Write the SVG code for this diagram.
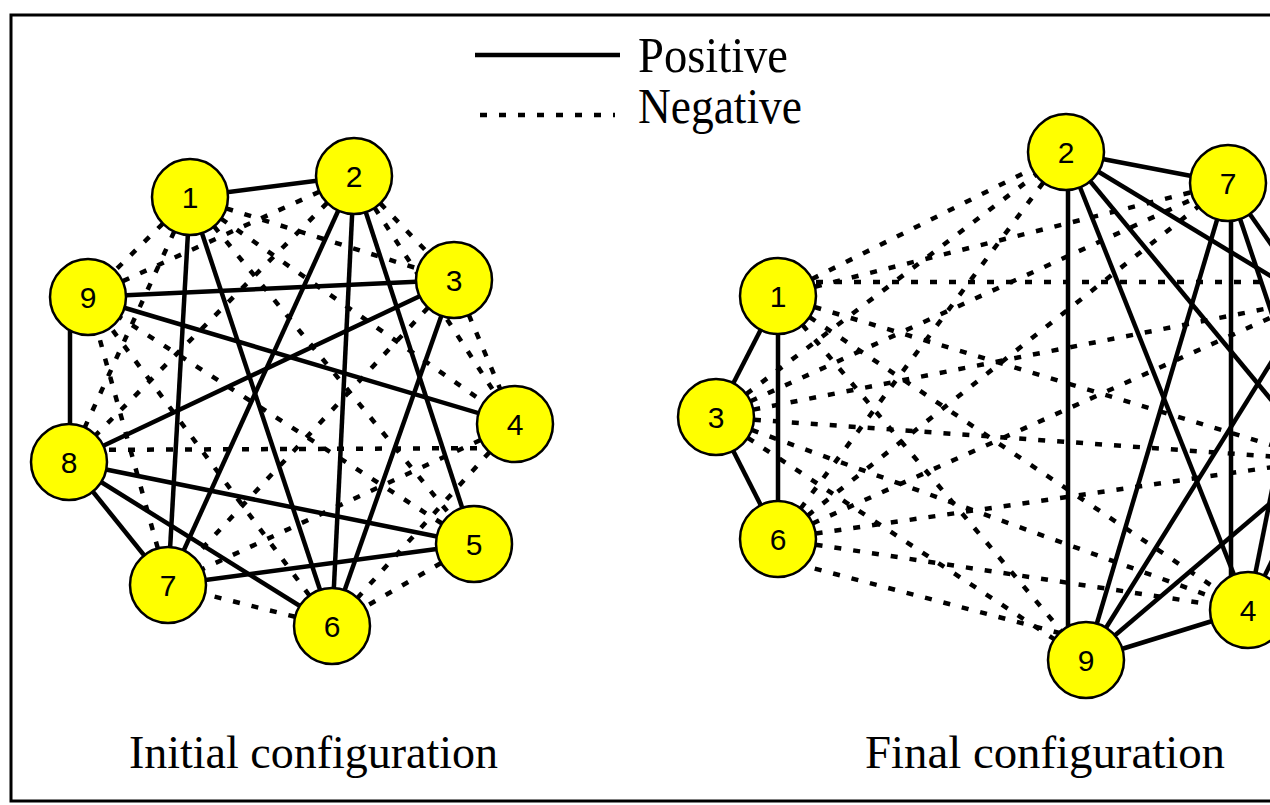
<svg xmlns="http://www.w3.org/2000/svg" width="1270" height="805" viewBox="0 0 1270 805">
<style>
.pos{stroke:#000;stroke-width:4.5;fill:none}
.neg{stroke:#000;stroke-width:4.5;stroke-dasharray:7 12;fill:none}
.node circle{fill:#ffff00;stroke:#000;stroke-width:2.5}
.node text{font-family:"Liberation Sans",Arial,sans-serif;font-size:30px;text-anchor:middle;fill:#000}
.cap{font-family:"Liberation Serif","Times New Roman",serif;fill:#000}
</style>
<rect x="0" y="0" width="1270" height="805" fill="#ffffff"/>
<rect x="11" y="15" width="1300" height="786" fill="none" stroke="#000" stroke-width="3"/>
<g id="legend">
<line class="pos" x1="475" y1="55" x2="620" y2="55" stroke-width="5"/>
<line class="neg" x1="480" y1="115" x2="615" y2="115"/>
<text class="cap" x="638" y="72" font-size="50" textLength="150" lengthAdjust="spacingAndGlyphs">Positive</text>
<text class="cap" x="638" y="123" font-size="50" textLength="164" lengthAdjust="spacingAndGlyphs">Negative</text>
</g>
<g id="connectors-initial">
<line class="pos" x1="190" y1="197" x2="354" y2="176"/>
<line class="pos" x1="190" y1="197" x2="168" y2="585"/>
<line class="pos" x1="190" y1="197" x2="332" y2="626"/>
<line class="pos" x1="354" y1="176" x2="168" y2="585"/>
<line class="pos" x1="354" y1="176" x2="332" y2="626"/>
<line class="pos" x1="354" y1="176" x2="474" y2="544"/>
<line class="pos" x1="454" y1="280" x2="88" y2="297"/>
<line class="pos" x1="515" y1="424" x2="88" y2="297"/>
<line class="pos" x1="70" y1="462" x2="70" y2="297"/>
<line class="pos" x1="454" y1="280" x2="69" y2="462"/>
<line class="pos" x1="474" y1="544" x2="69" y2="462"/>
<line class="pos" x1="332" y1="626" x2="69" y2="462"/>
<line class="pos" x1="168" y1="585" x2="69" y2="462"/>
<line class="pos" x1="474" y1="544" x2="168" y2="585"/>
<line class="pos" x1="454" y1="280" x2="332" y2="626"/>
<line class="neg" x1="190" y1="197" x2="454" y2="280"/>
<line class="neg" x1="190" y1="197" x2="515" y2="424"/>
<line class="neg" x1="190" y1="197" x2="474" y2="544"/>
<line class="neg" x1="190" y1="197" x2="69" y2="462"/>
<line class="neg" x1="190" y1="197" x2="88" y2="297"/>
<line class="neg" x1="354" y1="176" x2="454" y2="280"/>
<line class="neg" x1="354" y1="176" x2="515" y2="424"/>
<line class="neg" x1="354" y1="176" x2="69" y2="462"/>
<line class="neg" x1="354" y1="176" x2="88" y2="297"/>
<line class="neg" x1="454" y1="280" x2="515" y2="424"/>
<line class="neg" x1="454" y1="280" x2="168" y2="585"/>
<line class="neg" x1="515" y1="424" x2="332" y2="626"/>
<line class="neg" x1="515" y1="424" x2="168" y2="585"/>
<line class="neg" x1="515" y1="448" x2="69" y2="450"/>
<line class="neg" x1="474" y1="544" x2="332" y2="626"/>
<line class="neg" x1="474" y1="544" x2="88" y2="297"/>
<line class="neg" x1="332" y1="626" x2="168" y2="585"/>
<line class="neg" x1="332" y1="626" x2="88" y2="297"/>
<line class="neg" x1="168" y1="585" x2="88" y2="297"/>
</g>
<g id="connectors-final">
<line class="pos" x1="778" y1="296" x2="716" y2="417"/>
<line class="pos" x1="778" y1="296" x2="778" y2="539"/>
<line class="pos" x1="716" y1="417" x2="778" y2="539"/>
<line class="pos" x1="1066" y1="152" x2="1228" y2="183"/>
<line class="pos" x1="1068" y1="152" x2="1068" y2="660"/>
<line class="pos" x1="1066" y1="152" x2="1248" y2="610"/>
<line class="pos" x1="1066" y1="152" x2="1310" y2="300"/>
<line class="pos" x1="1066" y1="152" x2="1321" y2="460"/>
<line class="pos" x1="1228" y1="183" x2="1086" y2="660"/>
<line class="pos" x1="1231" y1="183" x2="1231" y2="610"/>
<line class="pos" x1="1228" y1="183" x2="1310" y2="300"/>
<line class="pos" x1="1228" y1="183" x2="1321" y2="460"/>
<line class="pos" x1="1086" y1="660" x2="1248" y2="610"/>
<line class="pos" x1="1086" y1="660" x2="1310" y2="300"/>
<line class="pos" x1="1086" y1="660" x2="1321" y2="460"/>
<line class="pos" x1="1248" y1="610" x2="1310" y2="300"/>
<line class="pos" x1="1248" y1="610" x2="1321" y2="460"/>
<line class="neg" x1="778" y1="296" x2="1066" y2="152"/>
<line class="neg" x1="778" y1="296" x2="1228" y2="183"/>
<line class="neg" x1="778" y1="282" x2="1310" y2="282"/>
<line class="neg" x1="778" y1="296" x2="1321" y2="460"/>
<line class="neg" x1="778" y1="296" x2="1248" y2="610"/>
<line class="neg" x1="778" y1="296" x2="1086" y2="660"/>
<line class="neg" x1="716" y1="417" x2="1066" y2="152"/>
<line class="neg" x1="716" y1="417" x2="1228" y2="183"/>
<line class="neg" x1="716" y1="417" x2="1310" y2="300"/>
<line class="neg" x1="716" y1="417" x2="1321" y2="460"/>
<line class="neg" x1="716" y1="417" x2="1248" y2="610"/>
<line class="neg" x1="716" y1="417" x2="1086" y2="660"/>
<line class="neg" x1="778" y1="539" x2="1066" y2="152"/>
<line class="neg" x1="778" y1="539" x2="1228" y2="183"/>
<line class="neg" x1="778" y1="539" x2="1310" y2="300"/>
<line class="neg" x1="778" y1="539" x2="1321" y2="460"/>
<line class="neg" x1="778" y1="539" x2="1248" y2="610"/>
<line class="neg" x1="778" y1="559" x2="1086" y2="640"/>
</g>
<g id="initial-1" class="node"><circle cx="190" cy="197" r="38"/><text x="190" y="208">1</text></g>
<g id="initial-2" class="node"><circle cx="354" cy="176" r="38"/><text x="354" y="187">2</text></g>
<g id="initial-3" class="node"><circle cx="454" cy="280" r="38"/><text x="454" y="291">3</text></g>
<g id="initial-4" class="node"><circle cx="515" cy="424" r="38"/><text x="515" y="435">4</text></g>
<g id="initial-5" class="node"><circle cx="474" cy="544" r="38"/><text x="474" y="555">5</text></g>
<g id="initial-6" class="node"><circle cx="332" cy="626" r="38"/><text x="332" y="637">6</text></g>
<g id="initial-7" class="node"><circle cx="168" cy="585" r="38"/><text x="168" y="596">7</text></g>
<g id="initial-8" class="node"><circle cx="69" cy="462" r="38"/><text x="69" y="473">8</text></g>
<g id="initial-9" class="node"><circle cx="88" cy="297" r="38"/><text x="88" y="308">9</text></g>
<g id="final-1" class="node"><circle cx="778" cy="296" r="38"/><text x="778" y="307">1</text></g>
<g id="final-3" class="node"><circle cx="716" cy="417" r="38"/><text x="716" y="428">3</text></g>
<g id="final-6" class="node"><circle cx="778" cy="539" r="38"/><text x="778" y="550">6</text></g>
<g id="final-2" class="node"><circle cx="1066" cy="152" r="38"/><text x="1066" y="163">2</text></g>
<g id="final-7" class="node"><circle cx="1228" cy="183" r="38"/><text x="1228" y="194">7</text></g>
<g id="final-9" class="node"><circle cx="1086" cy="660" r="38"/><text x="1086" y="671">9</text></g>
<g id="final-4" class="node"><circle cx="1248" cy="610" r="38"/><text x="1248" y="621">4</text></g>
<text class="cap" x="129" y="768" font-size="47" textLength="369" lengthAdjust="spacingAndGlyphs">Initial configuration</text>
<text class="cap" x="865" y="768" font-size="47" textLength="360" lengthAdjust="spacingAndGlyphs">Final configuration</text>
</svg>
